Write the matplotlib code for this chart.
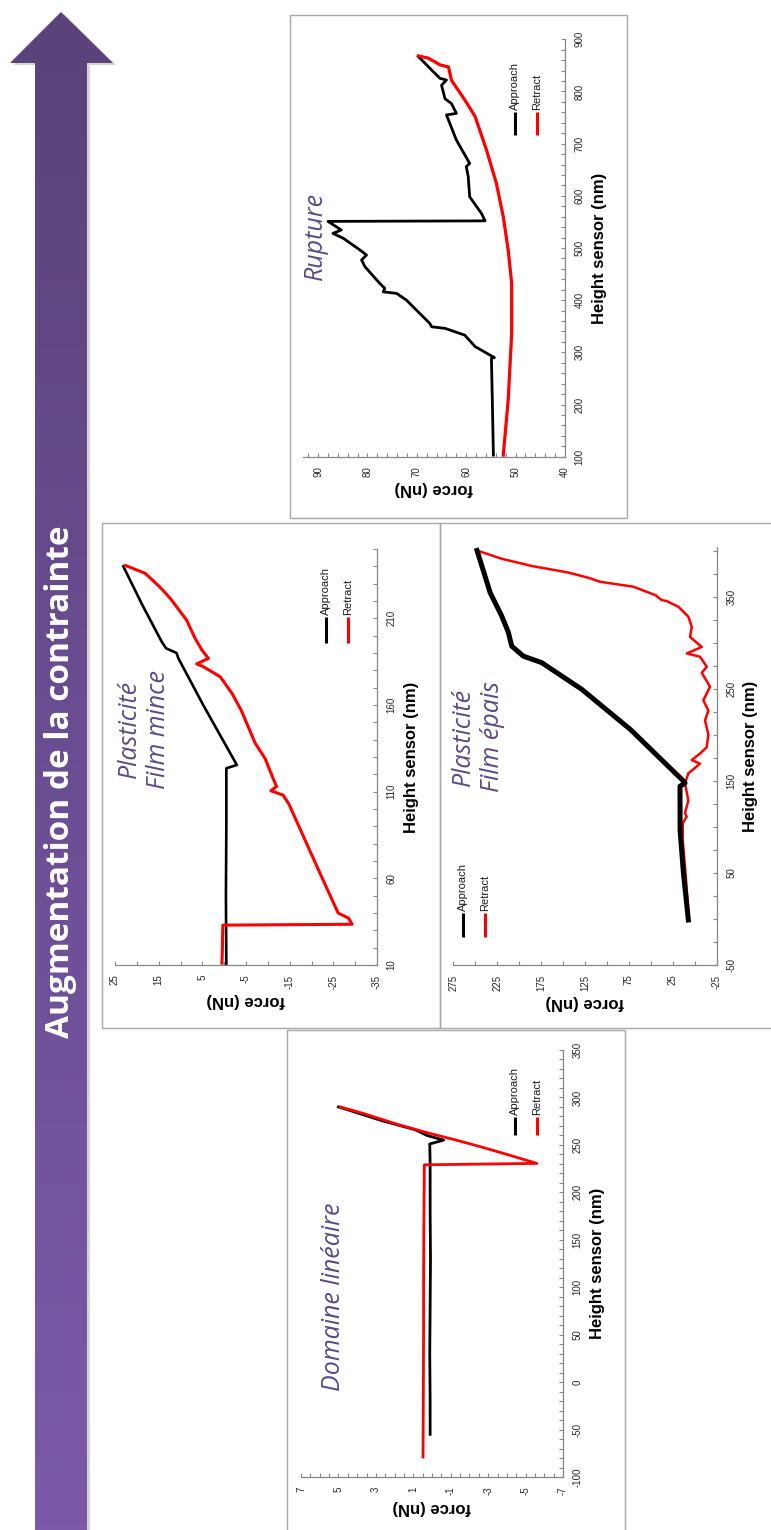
import numpy as np
import matplotlib
matplotlib.use("Agg")
import matplotlib.pyplot as plt
from matplotlib.ticker import FixedLocator, MultipleLocator
from matplotlib.patches import Polygon, Rectangle
from matplotlib.lines import Line2D
from matplotlib.colors import LinearSegmentedColormap

# --- data (height sensor in nm, force in nN) ---
# Domaine linéaire
height_A_app = [-55, -20, 30, 80, 130, 180, 230, 251, 255, 260, 266, 276, 287, 290]
force_A_app = [0.1, 0.1, 0.12, 0.1, 0.08, 0.1, 0.1, 0.12, -0.62, 0.27, 0.9, 2.76, 4.5, 5.0]
height_A_ret = [-79, -40, 0, 50, 100, 150, 200, 229, 230.5, 240, 248, 255, 262, 272, 283, 290]
force_A_ret = [0.48, 0.47, 0.46, 0.45, 0.45, 0.44, 0.42, 0.41, -5.6, -4.0, -2.6, -1.3, 0.1, 1.9, 3.65, 4.9]
force_ticks_A = [7, 5, 3, 1, -1, -3, -5, -7]
height_ticks_A = [-100, -50, 0, 50, 100, 150, 200, 250, 300, 350]

# Plasticité film mince
height_B_app = [10, 50, 90, 123.5, 125.4, 129, 160, 187, 190, 192.7, 196.5, 218, 240]
force_B_app = [-0.5, -0.4, -0.5, -0.5, -2.9, -2.1, 4.8, 10.5, 10.9, 13.3, 14.3, 18.8, 23.1]
height_B_ret = [11, 20, 33, 33.5, 37, 40, 61, 80, 103, 108, 110.5, 113, 117, 129, 138, 157,
                166.7, 176.3, 182.1, 183.7, 186.9, 191.7, 198.7, 209, 221.7, 228, 236, 240.5]
force_B_ret = [0.5, 0.4, 0.3, -29.3, -28.5, -26.1, -22.3, -18.9, -14.8, -13.5, -10.7, -12.0, -11.3,
               -9.4, -7.1, -3.9, -1.8, 0.9, 4.75, 6.3, 3.6, 5.1, 6.7, 8.6, 12.4, 14.7, 18.1, 22.6]
force_ticks_B = [25, 15, 5, -5, -15, -25, -35]
height_ticks_B = [10, 60, 110, 160, 210]

# Plasticité film épais
height_C_app = [-1, 50, 97, 144.5, 148, 152, 166, 206, 250, 279, 286, 297, 312, 330, 355, 373.6, 401]
force_C_app = [7.3, 12.9, 16.7, 16.8, 11, 14.8, 30, 73, 128.8, 174.4, 195.2, 208.5, 212.3, 220, 233, 239, 248]
height_C_ret = [401, 392, 384, 377, 371, 367, 361.6, 352.5, 347, 346, 339.8, 329, 318, 307, 296, 289,
                285.4, 274.5, 268, 252.8, 238, 227, 216, 201, 187, 180, 173, 169, 158.5, 147.7, 129,
                115, 111.4, 104, 86, 50, 0]
force_C_ret = [248, 220, 185, 144, 120, 108, 70, 45, 37.6, 32, 18.7, 7.3, 3.4, 5.3, -8, 9, -6,
               -13.7, -8, -17.4, -9.8, -15.5, -11.7, -15.5, -13.7, -6, 3.4, -6, 7.3, 11.1, 7.3,
               11.1, 9.2, 13.7, 13.7, 10.5, 6.5]
force_ticks_C = [275, 225, 175, 125, 75, 25, -25]
height_ticks_C = [-50, 50, 150, 250, 350]

# Rupture
height_D_app = [103, 200, 288.5, 290, 311, 333, 346, 349, 355.7, 381, 400, 413, 416, 422.8, 432,
                464, 477, 486.6, 496, 518.6, 528, 534.5, 551, 552, 566, 598, 637, 656, 662, 707,
                755, 758, 777, 786, 812, 822, 825, 841, 867]
force_D_app = [54.5, 54.7, 54.9, 54.3, 58.2, 60.3, 64.3, 67, 67.4, 70.1, 72.1, 74.1, 76.8, 76.5,
               77.5, 80.5, 81.2, 80.2, 81.5, 84.9, 87, 85.3, 88.0, 56.2, 56.9, 59.3, 59.6, 60,
               59.3, 62, 64, 62, 63, 64.3, 65, 64, 65.3, 67, 69.7]
height_D_ret = [103, 209, 336, 432, 496, 560, 624, 688, 752, 784, 816, 822, 847, 851, 864, 868]
force_D_ret = [52.5, 51.5, 50.8, 50.8, 51.5, 52.5, 53.9, 55.9, 58.2, 60.3, 62.6, 63.0, 63.6,
               65.3, 67.7, 69.7]
force_ticks_D = [90, 80, 70, 60, 50, 40]
height_ticks_D = [100, 200, 300, 400, 500, 600, 700, 800, 900]

W, H = 771, 1530
fig = plt.figure(figsize=(W / 100, H / 100), dpi=100)

# background layer in pixel coordinates: arrow, frames, titles
bg = fig.add_axes([0, 0, 1, 1])
bg.set_xlim(0, W)
bg.set_ylim(H, 0)
bg.axis("off")

arrow_pts = [(35, H), (35, 63), (10, 63), (61, 12), (113, 63), (87, 63), (87, H)]
shadow = Polygon([(x + 3, y + 2) for x, y in arrow_pts], closed=True,
                 facecolor="#c4c4c4", edgecolor="none", alpha=0.7, zorder=1)
bg.add_patch(shadow)
clip = Polygon(arrow_pts, closed=True, facecolor="none", edgecolor="none", zorder=2)
bg.add_patch(clip)
cmap = LinearSegmentedColormap.from_list("arrow", ["#594379", "#6a4e93", "#7b59a8"])
grad = np.linspace(0, 1, 256).reshape(-1, 1)
im = bg.imshow(grad, extent=[5, 120, H, 0], cmap=cmap, aspect="auto", origin="upper", zorder=2)
im.set_clip_path(clip)
bg.set_xlim(0, W)
bg.set_ylim(H, 0)
bg.text(61, 782, "Augmentation de la contrainte", rotation=90, color="white",
        fontsize=24, fontweight="bold", family=["Open Sans", "DejaVu Sans"],
        ha="center", va="center", zorder=3)

frame_kw = dict(facecolor="none", edgecolor="#a8a8a8", lw=1.0, zorder=1)
bg.add_patch(Rectangle((290, 15), 337, 503, **frame_kw))
bg.add_patch(Rectangle((102, 523), 338, 505, **frame_kw))
bg.add_patch(Rectangle((440, 523), 340, 505, **frame_kw))
bg.add_patch(Rectangle((287, 1030), 338, 520, **frame_kw))

title_kw = dict(rotation=90, color="#5b4a87", fontsize=18, style="italic",
                family=["Open Sans", "DejaVu Sans"], ha="center", va="center",
                multialignment="center", linespacing=1.25, zorder=3)
bg.text(333, 1297, "Domaine linéaire", **title_kw)
bg.text(144, 729, "Plasticité\nFilm mince", **title_kw)
bg.text(478, 737, "Plasticité\nFilm épais", **title_kw)
bg.text(315, 236, "Rupture", **title_kw)

axis_grey = "#878787"
font = ["Liberation Sans", "DejaVu Sans"]


def make_panel(x0, x1, ytop, ybot, flim, hlim, fticks, hticks, fminor, hminor):
    ax = fig.add_axes([x0 / W, 1 - ybot / H, (x1 - x0) / W, (ybot - ytop) / H])
    ax.set_facecolor("none")
    ax.set_xlim(flim)
    ax.set_ylim(hlim)
    for s in ["top", "left"]:
        ax.spines[s].set_visible(False)
    for s in ["bottom", "right"]:
        ax.spines[s].set_color(axis_grey)
        ax.spines[s].set_linewidth(0.9)
    ax.yaxis.tick_right()
    ax.xaxis.set_major_locator(FixedLocator(fticks))
    ax.yaxis.set_major_locator(FixedLocator(hticks))
    ax.xaxis.set_minor_locator(MultipleLocator(fminor))
    ax.yaxis.set_minor_locator(MultipleLocator(hminor))
    ax.set_xticklabels([str(t) for t in fticks])
    ax.set_yticklabels([str(t) for t in hticks])
    ax.tick_params(which="both", direction="in", length=3, width=0.8, color=axis_grey,
                   top=False, left=False)
    ax.tick_params(axis="x", which="major", labelsize=7, labelrotation=90, pad=7,
                   labelcolor="#262626")
    ax.tick_params(axis="y", which="major", labelsize=7, labelrotation=90, pad=7,
                   labelcolor="#262626")
    for lab in ax.get_xticklabels() + ax.get_yticklabels():
        lab.set_family(font)
    for lab in ax.get_yticklabels():
        lab.set_va("center")
    ax.set_xlabel("force (nN)", rotation=180, fontsize=12, fontweight="bold",
                  family=font, labelpad=3)
    ax.yaxis.set_label_position("right")
    ax.set_ylabel("Height sensor (nm)", rotation=90, fontsize=12, fontweight="bold",
                  family=font, labelpad=5)
    return ax


def add_legend(ax, xa, xr, y0, y1, lw=2.2):
    for x, name, c in [(xa, "Approach", "black"), (xr, "Retract", "red")]:
        ax.add_line(Line2D([x, x], [y0, y1], transform=ax.transAxes, color=c, lw=lw,
                           solid_capstyle="butt"))
        ax.text(x, y1 + 0.004, name, transform=ax.transAxes, rotation=90, fontsize=8,
                family=font, ha="center", va="bottom", color="#1a1a1a")


# Domaine linéaire
axA = make_panel(301, 563, 1050, 1477, (7, -7), (-100, 350), force_ticks_A, height_ticks_A, 0.5, 10)
axA.plot(force_A_app, height_A_app, color="black", lw=2.0)
axA.plot(force_A_ret, height_A_ret, color="red", lw=2.0)
add_legend(axA, 0.817, 0.90, 0.80, 0.843)

# Plasticité film mince
axB = make_panel(115, 377, 549, 965, (25, -35), (10, 250), force_ticks_B, height_ticks_B, 5, 10)
axB.plot(force_B_app, height_B_app, color="black", lw=1.9)
axB.plot(force_B_ret, height_B_ret, color="red", lw=2.2)
add_legend(axB, 0.805, 0.889, 0.774, 0.837)

# Plasticité film épais
axC = make_panel(453.3, 716.7, 546.8, 965, (275, -25), (-50, 405), force_ticks_C, height_ticks_C, 25, 25)
axC.plot(force_C_ret, height_C_ret, color="red", lw=1.8)
axC.plot(force_C_app, height_C_app, color="black", lw=3.6, solid_joinstyle="round")
add_legend(axC, 0.037, 0.12, 0.067, 0.124)

# Rupture
axD = make_panel(303.3, 565, 39.3, 456.7, (93, 40), (100, 900), force_ticks_D, height_ticks_D, 2, 20)
axD.plot(force_D_app, height_D_app, color="black", lw=2.0)
axD.plot(force_D_ret, height_D_ret, color="red", lw=2.3)
add_legend(axD, 0.809, 0.893, 0.771, 0.826)

fig.savefig("out.png", dpi=100)
